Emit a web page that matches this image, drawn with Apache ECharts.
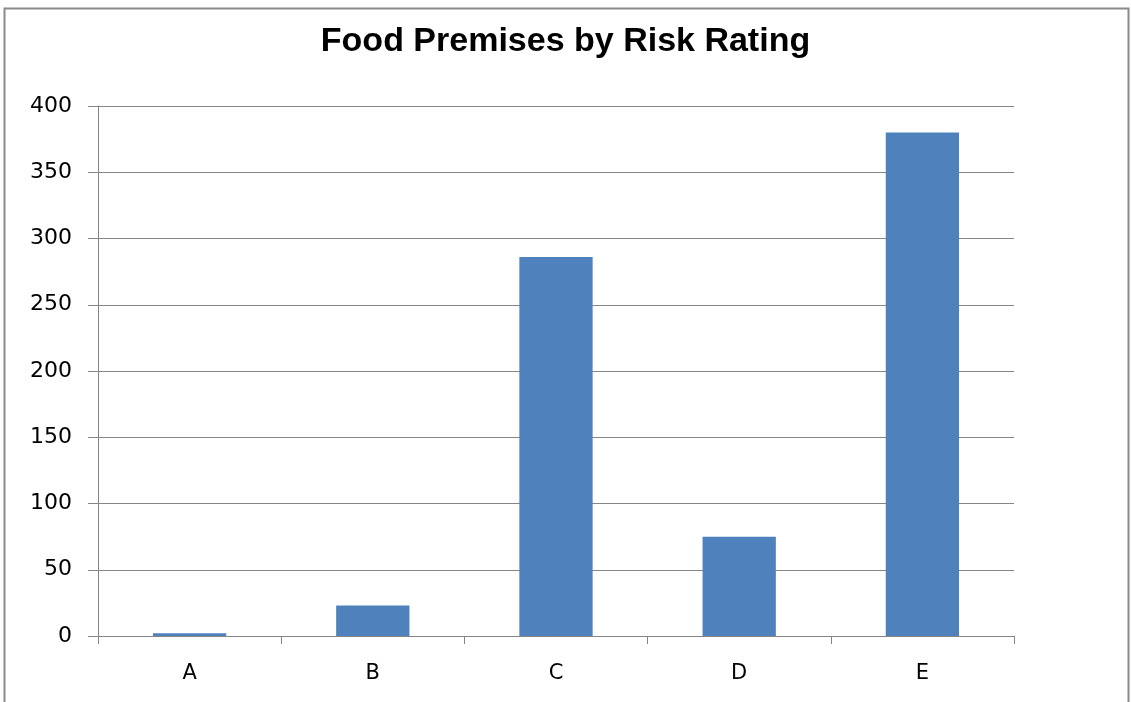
<!DOCTYPE html>
<html><head><meta charset="utf-8">
<script src="https://cdn.jsdelivr.net/npm/echarts@6/dist/echarts.min.js"></script>
<style>html,body{margin:0;padding:0;background:#fff}#c{width:1131px;height:702px}</style>
</head><body><div id="c"></div>
<script>
const categories = ['A', 'B', 'C', 'D', 'E'];
const values = [2, 23, 286, 75, 380];
const yTicks = [0, 400, 50];

const chart = echarts.init(document.getElementById('c'));
chart.setOption({
  animation: false,
  backgroundColor: '#fff',
  graphic: [{
    type: 'rect', shape: { x: 4.5, y: 8.5, width: 1124, height: 720 },
    style: { fill: 'none', stroke: '#8a8a8a', lineWidth: 2 }, silent: true
  }],
  title: {
    text: 'Food Premises by Risk Rating', left: 'center', top: 20,
    textStyle: { fontFamily: 'Liberation Sans', fontWeight: 'bold', fontSize: 34, color: '#000' }
  },
  grid: { left: 98, right: 117, top: 106, bottom: 66, containLabel: false },
  xAxis: {
    type: 'category', data: categories,
    axisLine: { lineStyle: { color: '#868686', width: 1 } },
    axisTick: { show: true, alignWithLabel: false, length: 8, lineStyle: { color: '#868686' } },
    axisLabel: { fontFamily: 'DejaVu Sans', fontSize: 21, color: '#000', margin: 27 }
  },
  yAxis: {
    type: 'value', min: yTicks[0], max: yTicks[1], interval: yTicks[2],
    axisLine: { show: true, lineStyle: { color: '#868686', width: 1 } },
    axisTick: { show: true, length: 10, lineStyle: { color: '#868686' } },
    splitLine: { lineStyle: { color: '#868686', width: 1 } },
    axisLabel: { fontFamily: 'DejaVu Sans', fontSize: 22, color: '#000', margin: 26 }
  },
  series: [{
    type: 'bar', data: values, barCategoryGap: '60%',
    itemStyle: { color: '#4F81BD' }
  }]
});
</script></body></html>
